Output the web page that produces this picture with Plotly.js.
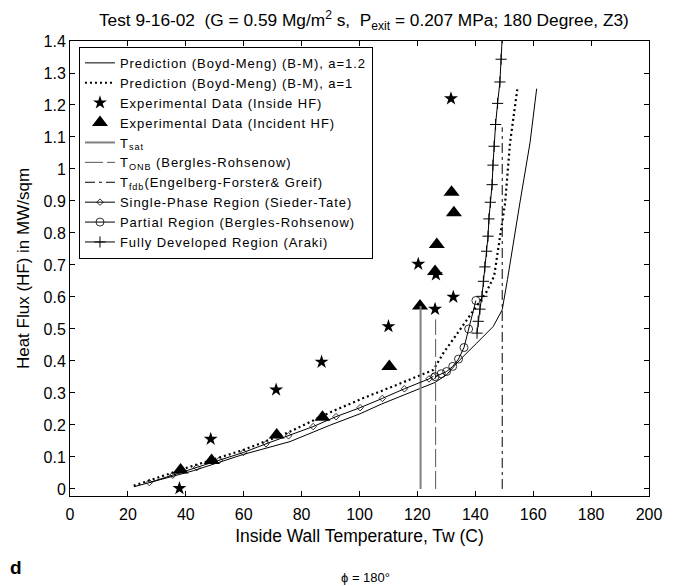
<!DOCTYPE html>
<html>
<head>
<meta charset="utf-8">
<script src="https://cdn.plot.ly/plotly-3.0.1.min.js"></script>
<style>
html,body{margin:0;padding:0;background:#fff;}
#chart{width:684px;height:586px;}
.legendtext{letter-spacing:0.95px;}
</style>
</head>
<body>
<div id="chart"></div>
<script>
// Prediction (Boyd-Meng), a=1.2
const pred12T = [22.1, 42.6, 59.9, 76, 90, 100.2, 107.5, 115.1, 126.1, 130.1, 134.7, 140.5, 146.2, 149.3, 151.1, 155.4, 158.9, 161.2];
const pred12Q = [0.007, 0.057, 0.108, 0.148, 0.2, 0.235, 0.265, 0.292, 0.333, 0.357, 0.404, 0.456, 0.508, 0.56, 0.654, 0.894, 1.082, 1.251];
// Prediction (Boyd-Meng), a=1
const pred1T = [22, 40, 59.9, 75, 90, 101.3, 112.8, 125.5, 129, 134.7, 139.3, 143.7, 146.5, 150.3, 152, 154.5];
const pred1Q = [0.01, 0.065, 0.122, 0.175, 0.24, 0.284, 0.325, 0.372, 0.425, 0.498, 0.56, 0.613, 0.665, 0.894, 1.082, 1.249];
// Experimental data (inside HF)
const insideT = [37.8, 48.6, 71.2, 86.9, 110, 120.3, 126.1, 126.4, 131.6, 132.4];
const insideQ = [0.002, 0.156, 0.31, 0.397, 0.508, 0.703, 0.562, 0.67, 1.22, 0.60];
// Experimental data (incident HF)
const incidentT = [38.2, 48.9, 71.4, 87.2, 110.3, 120.9, 126.1, 126.7, 131.8, 132.6];
const incidentQ = [0.059, 0.089, 0.169, 0.224, 0.383, 0.572, 0.68, 0.764, 0.927, 0.863];
// Characteristic temperatures (vertical lines)
const tsatT = [121.1, 121.1];
const tsatQ = [0, 0.572];
const tonbT = [126.3, 126.3];
const tonbQ = [0, 0.53];
const tfdbT = [149.3, 149.3];
const tfdbQ = [0, 1.13];
// Single-phase region (Sieder-Tate)
const singleT = [27.4, 35.5, 43.8, 51.6, 59.9, 67.7, 75.5, 84, 91.9, 100.2, 107.9, 115.5, 124, 125.5];
const singleQ = [0.02, 0.043, 0.067, 0.09, 0.114, 0.141, 0.166, 0.195, 0.226, 0.254, 0.283, 0.313, 0.344, 0.352];
// Partial region (Bergles-Rohsenow)
const partialT = [126.1, 128.2, 130.1, 132.2, 134.2, 136.1, 137.7, 140.2];
const partialQ = [0.351, 0.36, 0.367, 0.383, 0.406, 0.442, 0.50, 0.589];
// Fully developed region (Araki)
const arakiT = [140.6, 141.0, 141.6, 142.3, 142.8, 143.3, 143.9, 144.4, 144.7, 145.2, 145.8, 146.1, 146.5, 147.0, 147.7, 148.5, 148.9, 149.3];
const arakiQ = [0.487, 0.524, 0.562, 0.602, 0.649, 0.694, 0.743, 0.79, 0.844, 0.896, 0.951, 1.012, 1.071, 1.139, 1.205, 1.272, 1.343, 1.41];

const FONT = '"Liberation Sans", Arial, Helvetica, sans-serif';
const NB = '\u00a0';

const traces = [
  {x: pred12T, y: pred12Q, mode: 'lines', name: 'Prediction (Boyd-Meng) (B-M), a=1.2',
   line: {color: 'black', width: 1}},
  {x: pred1T, y: pred1Q, mode: 'lines', name: 'Prediction (Boyd-Meng) (B-M), a=1',
   line: {color: 'black', width: 2.2, dash: '2px,3px'}},
  {x: insideT, y: insideQ, mode: 'markers', name: 'Experimental Data (Inside HF)',
   marker: {symbol: 'star', size: 10.5, color: 'black'}},
  {x: incidentT, y: incidentQ, mode: 'markers', name: 'Experimental Data (Incident HF)',
   marker: {symbol: 'triangle-up', size: 14, color: 'black'}},
  {x: tsatT, y: tsatQ, mode: 'lines', name: 'T<sub>sat</sub>',
   line: {color: '#808080', width: 2}},
  {x: tonbT, y: tonbQ, mode: 'lines', name: 'T<sub>ONB</sub> (Bergles-Rohsenow)',
   line: {color: '#555555', width: 1, dash: '18px,4px'}},
  {x: tfdbT, y: tfdbQ, mode: 'lines', name: 'T<sub>fdb</sub>(Engelberg-Forster& Greif)',
   line: {color: 'black', width: 1, dash: '10px,4px,3px,4px'}},
  {x: singleT, y: singleQ, mode: 'lines+markers', name: 'Single-Phase Region (Sieder-Tate)',
   line: {color: 'black', width: 1},
   marker: {symbol: 'diamond-open', size: 5, color: 'black', line: {width: 0.8}}},
  {x: partialT, y: partialQ, mode: 'lines+markers', name: 'Partial Region (Bergles-Rohsenow)',
   line: {color: 'black', width: 1},
   marker: {symbol: 'circle-open', size: 8, color: 'black', line: {width: 0.8}}},
  {x: arakiT, y: arakiQ, mode: 'lines+markers', name: 'Fully Developed Region (Araki)',
   line: {color: 'black', width: 1},
   marker: {symbol: 'cross-thin-open', size: 8, color: 'black', line: {width: 1, color: 'black'}}}
];

const axisCommon = {
  showgrid: false, zeroline: false, showline: true, linecolor: 'black', linewidth: 1,
  mirror: 'ticks', ticks: 'inside', ticklen: 5, tickwidth: 1, tickcolor: 'black',
  tickfont: {family: FONT, size: 16, color: 'black'}
};

const layout = {
  width: 684, height: 586,
  margin: {l: 70, r: 35, t: 41, b: 90, pad: 0},
  paper_bgcolor: 'white', plot_bgcolor: 'white',
  font: {family: FONT, color: 'black'},
  title: {
    text: 'Test 9-16-02' + NB + NB + '(G = 0.59 Mg/m<sup>2</sup> s,' + NB + NB + 'P<sub>exit</sub> = 0.207 MPa; 180 Degree, Z3)',
    font: {family: FONT, size: 17.3, color: 'black'},
    x: 0.532, xref: 'container', xanchor: 'center', y: 0.966, yref: 'container', yanchor: 'middle'
  },
  xaxis: Object.assign({}, axisCommon, {
    range: [0, 200], dtick: 20, tick0: 0, ticklabelstandoff: 4,
    title: {text: 'Inside Wall Temperature, Tw (C)', font: {family: FONT, size: 17.5, color: 'black'}, standoff: 7}
  }),
  yaxis: Object.assign({}, axisCommon, {
    range: [-0.022, 1.4], dtick: 0.1, tick0: 0,
    title: {text: 'Heat Flux (HF) in MW/sqm', font: {family: FONT, size: 17, color: 'black'}, standoff: 9}
  }),
  showlegend: true,
  legend: {
    x: 0.0155, y: 0.987, xanchor: 'left', yanchor: 'top',
    bgcolor: 'white', bordercolor: 'black', borderwidth: 1,
    font: {family: FONT, size: 13, color: 'black'},
    itemwidth: 30, tracegroupgap: 0
  },
  annotations: [
    {text: '<b>d</b>', xref: 'paper', yref: 'paper', x: -0.107, y: -0.158,
     xanchor: 'left', yanchor: 'middle', showarrow: false,
     font: {family: FONT, size: 19, color: 'black'}},
    {text: 'ϕ = 180°', xref: 'paper', yref: 'paper', x: 0.511, y: -0.18,
     xanchor: 'center', yanchor: 'middle', showarrow: false,
     font: {family: FONT, size: 13, color: 'black'}}
  ]
};

Plotly.newPlot('chart', traces, layout, {displayModeBar: false, staticPlot: true});
</script>
</body>
</html>
